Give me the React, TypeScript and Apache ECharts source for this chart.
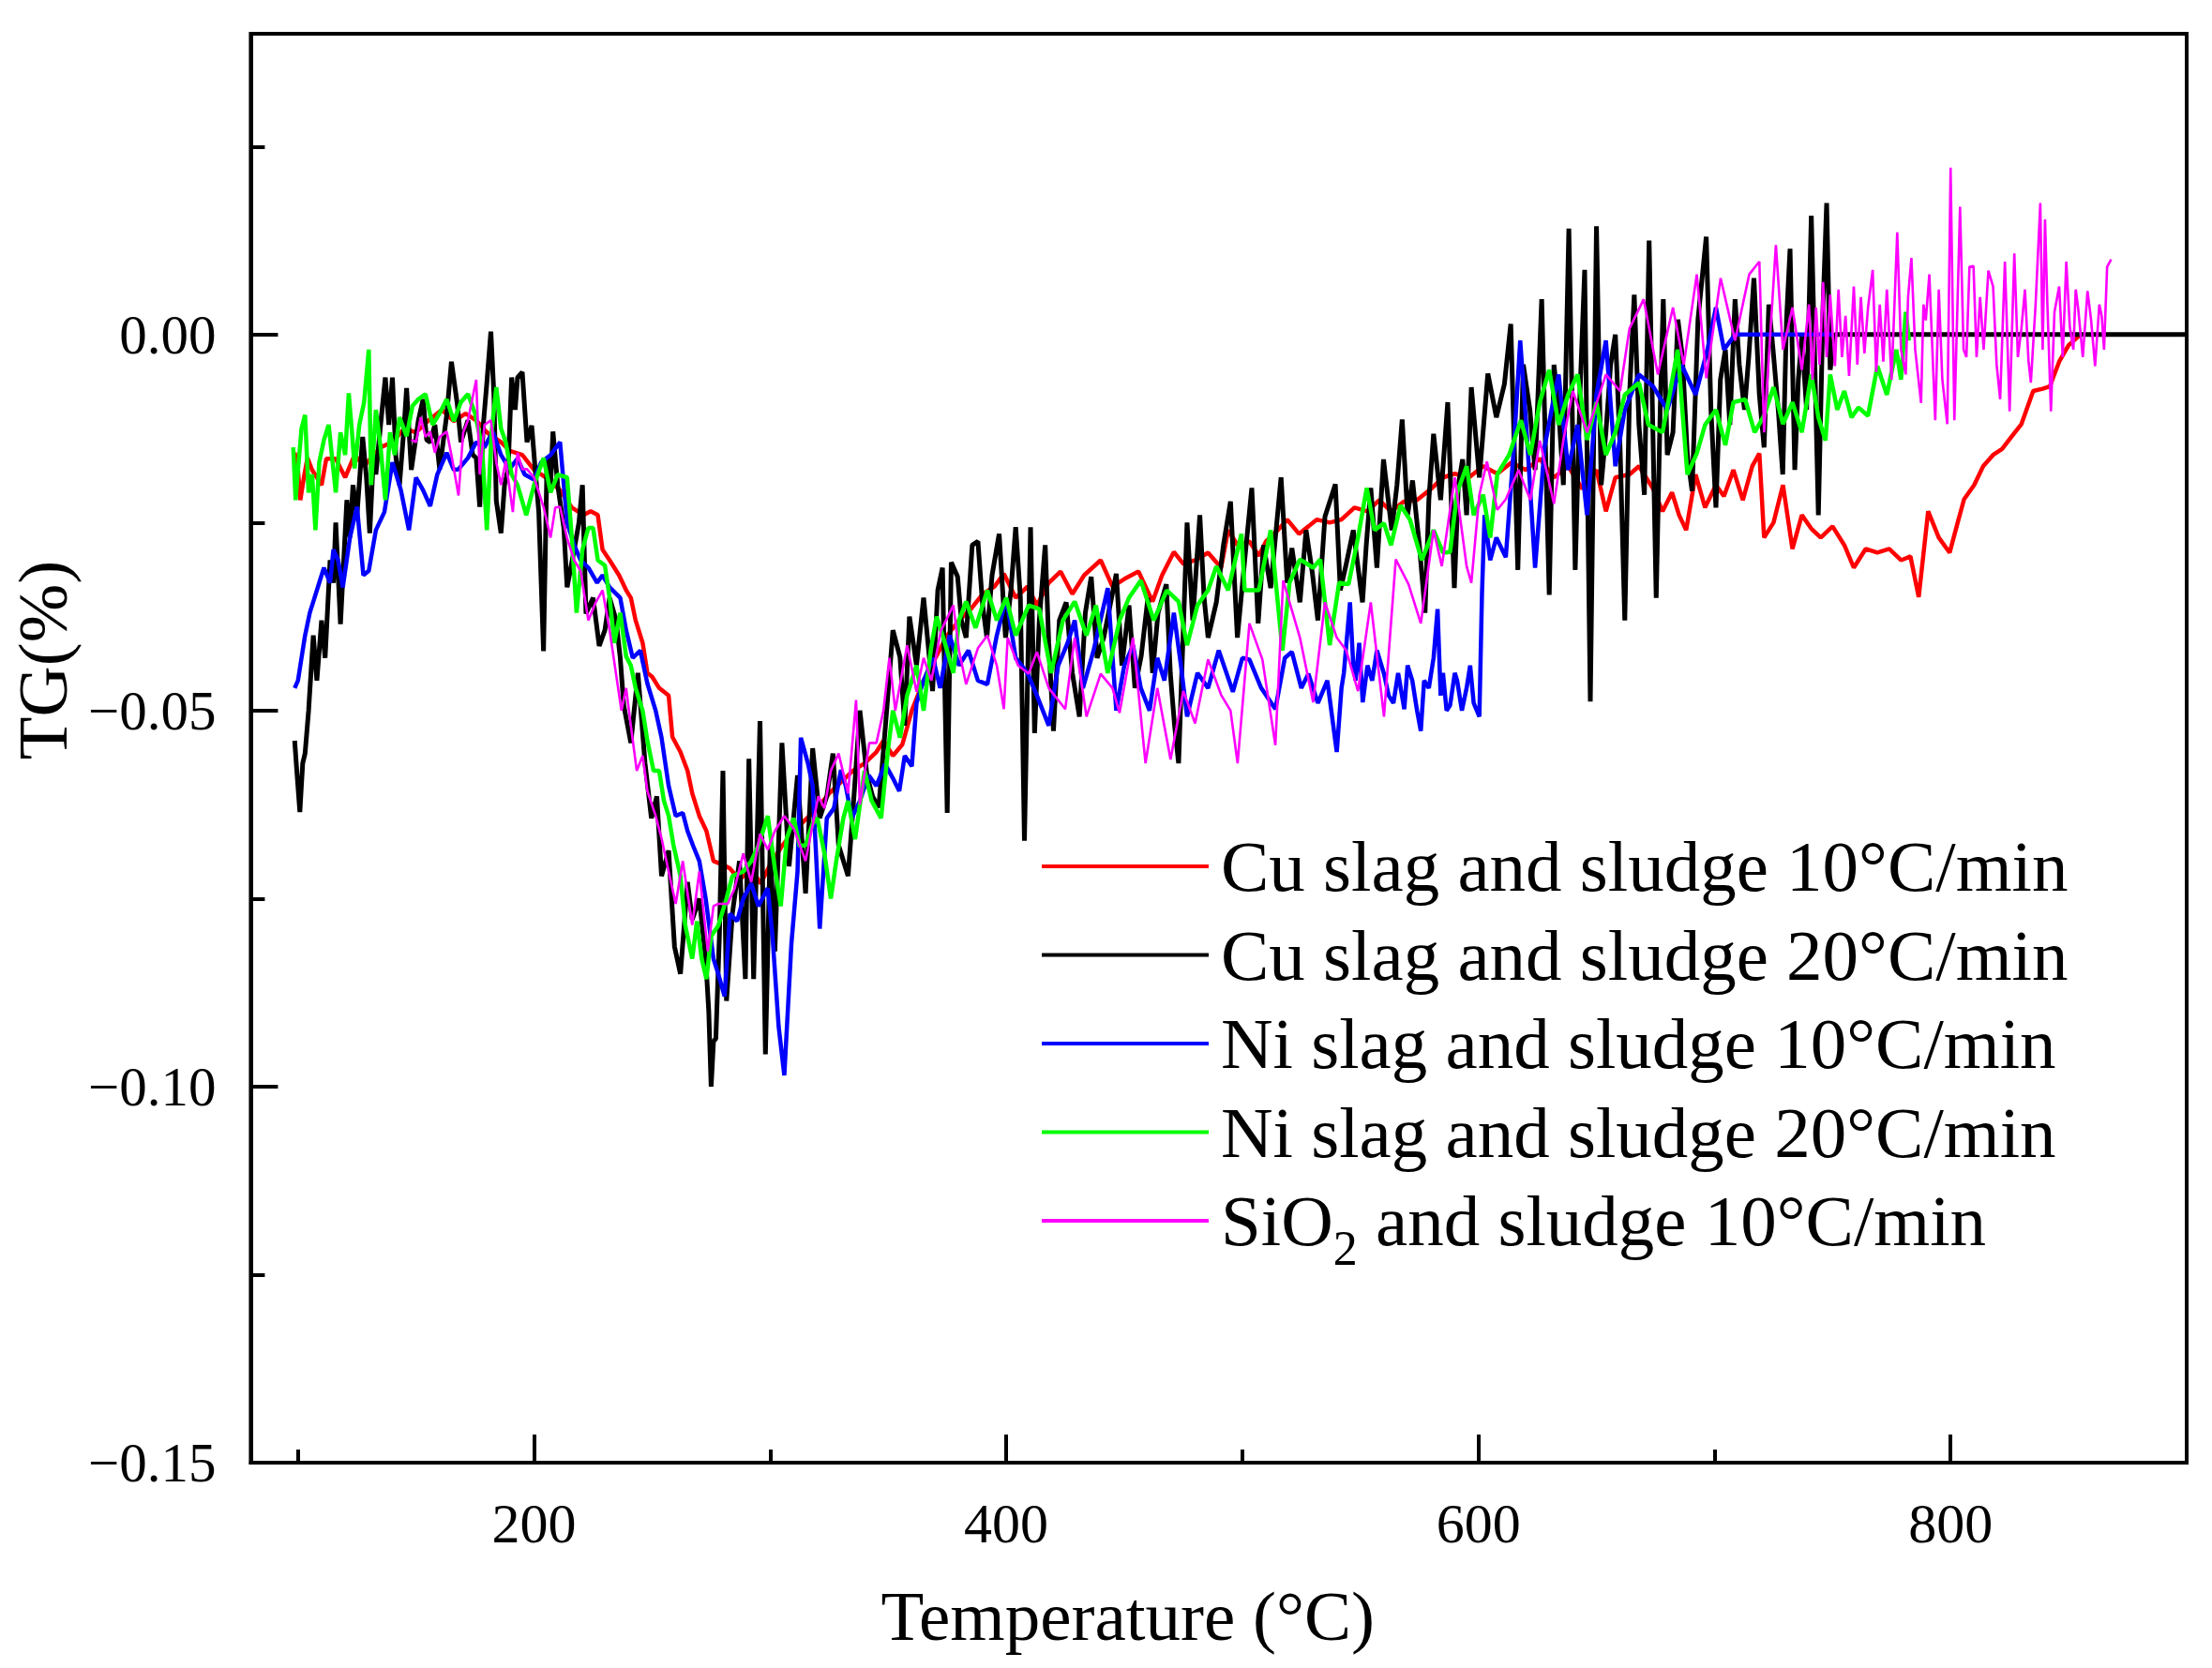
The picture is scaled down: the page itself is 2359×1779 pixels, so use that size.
import { useRef, useEffect } from "react";
import * as echarts from "echarts";

// [temperature °C, TG %]
const cuSlag10: [number, number][] = [
  [98.6, -0.0157], [100, -0.018], [101, -0.022], [102.5, -0.019], [104, -0.0164], [106, -0.018],
  [110, -0.02], [112, -0.0165], [116, -0.0165], [120, -0.019], [124, -0.016], [128, -0.0175],
  [131, -0.0164], [135, -0.015], [140, -0.0143], [145, -0.0125], [150, -0.013], [155, -0.0115],
  [161, -0.01], [166, -0.0115], [171, -0.0105], [175.5, -0.0114], [180, -0.013], [186, -0.0143],
  [190, -0.0155], [195, -0.016], [200, -0.018], [205, -0.019], [211, -0.0207], [216, -0.023],
  [221, -0.024], [224, -0.0235], [227, -0.024], [229, -0.0286], [232, -0.03], [234, -0.031],
  [236, -0.032], [239, -0.034], [241, -0.035], [243, -0.038], [246, -0.041], [248, -0.045],
  [250, -0.0455], [253, -0.047], [257, -0.048], [258.6, -0.0535], [262, -0.0555], [265, -0.058],
  [267, -0.061], [270, -0.064], [273, -0.066], [274.5, -0.068], [276, -0.07], [280, -0.0705],
  [283, -0.071], [287, -0.0725], [292, -0.071], [296, -0.073], [300, -0.0705], [305, -0.068],
  [310, -0.066], [315, -0.0645], [320, -0.063], [325, -0.061], [330, -0.0595], [335, -0.058],
  [340, -0.057], [345, -0.0555], [348, -0.054], [352, -0.056], [356, -0.0545], [360, -0.05],
  [365, -0.046], [370, -0.043], [375, -0.04], [380, -0.038], [385, -0.0365], [390, -0.0345],
  [395, -0.0335], [399, -0.0318], [404, -0.035], [409, -0.0335], [413, -0.036], [418, -0.033],
  [423, -0.0315], [428, -0.0345], [433, -0.032], [440, -0.03], [445, -0.0335], [450, -0.0325],
  [456, -0.0315], [462, -0.0355], [466, -0.032], [471, -0.0289], [475, -0.0305], [480, -0.03],
  [485.5, -0.029], [491, -0.031], [494, -0.026], [498, -0.028], [503, -0.0275], [507, -0.0294],
  [510, -0.0275], [515, -0.026], [519, -0.0246], [524, -0.0265], [528, -0.0255], [531.5, -0.0246],
  [537, -0.025], [542, -0.0246], [547.5, -0.023], [553, -0.0235], [558, -0.022], [563, -0.0235],
  [568.5, -0.0222], [574, -0.022], [580, -0.0205], [585, -0.019], [590, -0.0185], [596, -0.019],
  [602, -0.0175], [608, -0.0185], [614, -0.017], [620, -0.018], [626, -0.0165], [632, -0.019],
  [638, -0.0175], [644, -0.0205], [650, -0.018], [654, -0.0235], [658, -0.019], [664, -0.0186],
  [668, -0.0175], [674, -0.0205], [678, -0.0235], [682, -0.021], [685, -0.024], [688, -0.026],
  [692, -0.0186], [696, -0.023], [700.6, -0.02], [704, -0.0215], [708, -0.018], [712, -0.022],
  [716, -0.0175], [719, -0.0158], [721, -0.027], [725, -0.025], [729, -0.02], [733, -0.0285],
  [737, -0.024], [741, -0.0258], [745, -0.027], [750, -0.0255], [755, -0.028], [759, -0.031],
  [764, -0.0285], [769, -0.029], [774, -0.0285], [779, -0.03], [783, -0.0295], [786.5, -0.0349],
  [790.5, -0.0235], [795, -0.027], [799.6, -0.029], [803, -0.025], [805.7, -0.0219], [810, -0.02],
  [813.8, -0.0175], [818, -0.016], [821.8, -0.0152], [826, -0.0135], [830, -0.0119], [835, -0.0075],
  [839, -0.0072], [842, -0.0069], [846, -0.0036], [850, -0.0014], [855, 0],
];

const cuSlag20: [number, number][] = [
  [98.6, -0.054], [99.5, -0.058], [100.8, -0.0635], [102, -0.057], [103, -0.0557], [104.5, -0.05],
  [106.5, -0.04], [108, -0.046], [110, -0.038], [111.5, -0.043], [113.6, -0.03], [115, -0.033],
  [116, -0.025], [118, -0.0385], [120.7, -0.022], [122, -0.027], [123.3, -0.02], [125, -0.024],
  [127.4, -0.0136], [129, -0.019], [130.4, -0.0264], [132, -0.016], [133, -0.0186], [135, -0.012],
  [137, -0.0057], [138.5, -0.012], [140, -0.0057], [141.5, -0.0164], [143, -0.02], [145, -0.012],
  [146, -0.0071], [148, -0.018], [151, -0.0114], [153, -0.0086], [154.5, -0.014], [156, -0.0143],
  [158, -0.012], [160, -0.0179], [163, -0.0107], [165, -0.0036], [167.5, -0.0093], [169, -0.0143],
  [172, -0.0114], [174, -0.016], [175.5, -0.0164], [177, -0.0229], [178.5, -0.012], [180, -0.0064],
  [181.7, 0.0004], [183, -0.008], [184, -0.0221], [186, -0.0264], [187.5, -0.02], [189, -0.0179],
  [190.5, -0.0057], [192, -0.01], [193, -0.0057], [195, -0.005], [197, -0.0143], [199, -0.0121],
  [200.5, -0.018], [202, -0.0236], [204, -0.0421], [205.5, -0.0164], [207, -0.02], [208, -0.0129],
  [210, -0.02], [212.6, -0.0257], [214, -0.0336], [217, -0.0286], [219, -0.025], [220.5, -0.02],
  [222, -0.0371], [225, -0.035], [227.6, -0.0414], [230, -0.0393], [232, -0.035], [234.7, -0.0379],
  [236.5, -0.043], [238, -0.0493], [241, -0.0543], [244, -0.045], [247, -0.057], [249.7, -0.0643],
  [252, -0.0614], [254, -0.072], [257, -0.0686], [259.5, -0.0814], [262, -0.085], [265, -0.0728],
  [267, -0.0778], [270, -0.075], [272.7, -0.083], [274, -0.09], [275, -0.1], [276, -0.094],
  [277, -0.0936], [278.5, -0.08], [280, -0.058], [281.5, -0.0886], [284, -0.077], [287, -0.07],
  [289.5, -0.0857], [291, -0.0564], [293, -0.0857], [295.7, -0.0514], [298, -0.0957], [300, -0.0679],
  [302, -0.082], [305, -0.0543], [308, -0.0707], [311.6, -0.0586], [315, -0.0743], [318, -0.055],
  [321, -0.0643], [324, -0.0614], [326.6, -0.0557], [329, -0.0679], [333, -0.072], [335.5, -0.0614],
  [338, -0.05], [341, -0.0586], [343.4, -0.0614], [346, -0.0629], [349, -0.0514], [352, -0.0393],
  [355, -0.0429], [357, -0.052], [359, -0.0375], [362, -0.044], [365, -0.035], [368.8, -0.0474],
  [371, -0.034], [373, -0.031], [375, -0.0636], [376.7, -0.0303], [379.4, -0.0322], [381, -0.038],
  [383, -0.0403], [385.6, -0.028], [388, -0.0275], [390, -0.036], [391.8, -0.0403], [394, -0.032],
  [397, -0.0265], [399.7, -0.0403], [402, -0.034], [404, -0.0256], [406, -0.035], [407.7, -0.0673],
  [410.3, -0.0256], [412, -0.053], [414, -0.038], [416.5, -0.028], [418, -0.041], [420, -0.0527],
  [422.5, -0.038], [425.4, -0.0356], [428, -0.045], [431, -0.0508], [433.5, -0.037], [436, -0.0322],
  [438.5, -0.043], [441.3, -0.0403], [444, -0.036], [446.6, -0.0318], [449, -0.044], [452, -0.036],
  [454.5, -0.047], [457.2, -0.0427], [460, -0.035], [462, -0.045], [464.3, -0.037], [467.8, -0.0332],
  [469.5, -0.045], [471.3, -0.052], [473, -0.057], [476.6, -0.025], [479, -0.038], [482, -0.024],
  [483.8, -0.035], [485.5, -0.0403], [489, -0.0356], [492, -0.028], [495, -0.0222], [497.9, -0.0403],
  [501, -0.03], [504, -0.0204], [506.7, -0.0384], [509, -0.028], [512, -0.0337], [514, -0.027],
  [516.4, -0.019], [519, -0.033], [521, -0.0284], [524.4, -0.0356], [527, -0.026], [529.7, -0.0318],
  [532, -0.038], [535, -0.0242], [539.4, -0.0199], [541.5, -0.034], [543.8, -0.0308], [547, -0.026],
  [550.9, -0.0356], [552.5, -0.028], [554.4, -0.0204], [557, -0.031], [559.8, -0.0166], [563.3, -0.026],
  [565.5, -0.02], [567.7, -0.0113], [570, -0.024], [572.1, -0.0194], [575, -0.028], [577.4, -0.037],
  [579, -0.022], [581, -0.0132], [584, -0.022], [587, -0.009], [589.8, -0.0337], [591.5, -0.02],
  [593.3, -0.0166], [595, -0.024], [597, -0.007], [600.4, -0.019], [604, -0.0052], [607.6, -0.011],
  [611, -0.0066], [613.7, 0.0014], [616.7, -0.0313], [619, -0.004], [621.8, -0.01], [624, -0.018],
  [626.8, 0.0047], [630, -0.0346], [632, -0.004], [634, -0.0102], [636, -0.02], [638.3, 0.0141],
  [641, -0.0313], [643, -0.008], [645, 0.0086], [647.4, -0.0488], [650, 0.0144], [652, -0.02],
  [654, -0.013], [656, -0.004], [658, 0], [660, -0.015], [662, -0.038], [664, -0.008], [666, 0.0053],
  [668, -0.012], [670.3, -0.0213], [672.3, 0.0125], [675.3, -0.035], [677, -0.01], [678.3, 0.0047],
  [680, -0.016], [682.4, -0.013], [684.5, 0.002], [686.4, -0.003], [688.5, -0.016], [690.5, -0.0208],
  [693, 0.002], [696.5, 0.013], [698.5, -0.01], [700.6, -0.023], [702.5, -0.006], [704.6, -0.002],
  [706.5, -0.012], [708.7, 0.0047], [710.5, -0.004], [712.7, -0.01], [714.5, -0.003], [716.7, 0.0075],
  [719, -0.008], [721, -0.015], [723, 0.004], [724.8, -0.002], [727, -0.01], [728.9, -0.0186],
  [730.5, 0.002], [732, 0.0114], [734, -0.018], [735.5, -0.006], [737, -0.0002], [739, -0.01],
  [741, 0.0158], [744, -0.024], [746, 0.004], [747.5, 0.0175], [749, -0.0047], [751, 0], [900, 0],
];

const niSlag10: [number, number][] = [
  [98.6, -0.047], [100, -0.046], [101, -0.044], [103, -0.04], [105, -0.037], [107, -0.035],
  [109, -0.033], [111, -0.031], [113.6, -0.033], [115, -0.0286], [117, -0.03], [119, -0.0336],
  [122, -0.027], [125, -0.0229], [127.7, -0.032], [130, -0.0314], [133, -0.026], [136.6, -0.0236],
  [140, -0.017], [142, -0.019], [143.6, -0.0207], [147, -0.026], [150, -0.019], [153, -0.0207],
  [156, -0.0228], [159, -0.0186], [163, -0.0157], [166, -0.018], [168, -0.0179], [172, -0.0164],
  [175.5, -0.0143], [179, -0.015], [182.5, -0.0129], [186, -0.016], [189.6, -0.0179], [193, -0.0165],
  [196, -0.0186], [200, -0.0193], [203, -0.017], [207, -0.016], [211, -0.0143], [214, -0.025],
  [217, -0.028], [219.7, -0.03], [223, -0.031], [226.7, -0.033], [229, -0.032], [232, -0.0336],
  [236.5, -0.035], [239, -0.0393], [241.8, -0.043], [245, -0.042], [248, -0.0464], [251.5, -0.05],
  [254, -0.0536], [257, -0.06], [260, -0.064], [263, -0.0636], [265, -0.066], [267.4, -0.068],
  [270, -0.07], [272.7, -0.075], [276, -0.083], [278, -0.085], [280.7, -0.088], [283, -0.077],
  [286, -0.078], [288.6, -0.075], [292, -0.073], [295, -0.076], [299, -0.0736], [301, -0.08],
  [303.6, -0.092], [306, -0.0985], [309, -0.081], [311.6, -0.0714], [313, -0.0536], [316, -0.057],
  [318, -0.06], [321, -0.079], [324, -0.0643], [327, -0.063], [330, -0.0579], [332, -0.06],
  [334.6, -0.0643], [338, -0.062], [341.7, -0.0586], [345, -0.06], [348.7, -0.0571], [352, -0.059],
  [354.7, -0.0607], [357, -0.056], [360, -0.0574], [362, -0.049], [365, -0.046], [369, -0.043],
  [372, -0.047], [376, -0.04], [380, -0.044], [384, -0.042], [388, -0.046], [392, -0.0465],
  [396, -0.04], [400, -0.035], [404, -0.043], [409, -0.045], [413, -0.048], [418, -0.052],
  [422, -0.044], [426, -0.041], [429, -0.038], [432.5, -0.047], [437, -0.042], [443, -0.0337],
  [446.6, -0.05], [450, -0.044], [453.7, -0.0413], [457, -0.047], [460.7, -0.05], [464, -0.043],
  [467, -0.046], [471, -0.037], [474, -0.044], [476.6, -0.0508], [481, -0.045], [485.5, -0.047],
  [490, -0.042], [496, -0.0475], [500, -0.043], [503, -0.0432], [508, -0.047], [514, -0.0498],
  [518, -0.043], [521, -0.0422], [525, -0.047], [528, -0.0451], [532, -0.049], [536, -0.046],
  [540, -0.0555], [542, -0.047], [543, -0.045], [545.6, -0.0356], [547, -0.044], [548, -0.046],
  [549.5, -0.041], [551, -0.0489], [553, -0.044], [555, -0.046], [557, -0.042], [560, -0.0451],
  [562, -0.048], [564, -0.049], [566, -0.045], [568.6, -0.0498], [570, -0.044], [572, -0.046],
  [574, -0.05], [575.6, -0.0527], [577, -0.046], [579, -0.047], [581, -0.043], [582.7, -0.0365],
  [584, -0.048], [585, -0.045], [586.5, -0.05], [588, -0.0493], [590, -0.045], [591, -0.046],
  [593, -0.05], [595, -0.047], [596.5, -0.044], [598, -0.049], [600.4, -0.0508], [601.5, -0.0346],
  [602.6, -0.024], [605, -0.03], [607.6, -0.027], [611.6, -0.0296], [615, -0.015], [617.7, -0.0008],
  [620, -0.0108], [624, -0.031], [628, -0.015], [631, -0.01], [634, -0.0053], [638, -0.018],
  [642, -0.012], [646, -0.024], [650, -0.008], [654, -0.0008], [658, -0.0175], [662, -0.01],
  [668, -0.0053], [674, -0.0069], [680, -0.01], [686, -0.004], [692, -0.008], [697, -0.002],
  [700.6, 0.0036], [704, -0.002], [708.7, 0], [750, 0],
];

const niSlag20: [number, number][] = [
  [98, -0.015], [99, -0.022], [100, -0.018], [101.5, -0.0125], [103, -0.0107], [104.5, -0.021],
  [106, -0.0186], [107.4, -0.026], [109, -0.017], [111, -0.014], [113, -0.012], [115, -0.018],
  [116, -0.021], [118, -0.013], [120, -0.016], [121.5, -0.0078], [123, -0.0135], [124, -0.0178],
  [126, -0.012], [128, -0.009], [130, -0.002], [131, -0.02], [133, -0.01], [135, -0.015],
  [137, -0.022], [139, -0.013], [141, -0.016], [143, -0.011], [146, -0.0135], [148.5, -0.0095],
  [151, -0.0086], [154, -0.0079], [157, -0.012], [159.6, -0.0107], [163, -0.0086], [166, -0.0115],
  [169, -0.009], [172, -0.0079], [175, -0.0105], [178, -0.015], [180, -0.026], [182, -0.013],
  [184, -0.007], [186, -0.0125], [188, -0.0143], [190.5, -0.0186], [193, -0.02], [196.7, -0.024],
  [200, -0.02], [204, -0.0164], [207, -0.021], [210, -0.0186], [214, -0.019], [216, -0.027],
  [218, -0.037], [220.5, -0.0286], [223, -0.0257], [225, -0.0257], [227, -0.03], [230, -0.0307],
  [232, -0.035], [234, -0.041], [236.5, -0.037], [239, -0.0428], [241, -0.044], [243, -0.047],
  [246, -0.05], [248, -0.054], [250.6, -0.058], [253, -0.058], [255, -0.062], [257, -0.064],
  [259, -0.0678], [262, -0.072], [264, -0.0785], [267, -0.083], [269, -0.078], [271, -0.083],
  [273, -0.0857], [275, -0.08], [278, -0.0786], [281.5, -0.075], [284, -0.072], [288.6, -0.0714],
  [292, -0.07], [295, -0.068], [299, -0.064], [302, -0.071], [304.5, -0.076], [307, -0.067],
  [310, -0.0643], [312.5, -0.068], [315, -0.0679], [318, -0.065], [320, -0.0643], [323, -0.069],
  [325.7, -0.075], [328, -0.07], [331, -0.0643], [333, -0.062], [336, -0.0671], [340, -0.058],
  [343, -0.062], [347, -0.0643], [350, -0.055], [352, -0.05], [355, -0.0536], [358, -0.048],
  [362, -0.044], [365, -0.05], [368, -0.042], [370.5, -0.0375], [374, -0.041], [377.6, -0.045],
  [380, -0.038], [383, -0.0355], [387, -0.039], [392, -0.034], [396, -0.038], [400, -0.035],
  [404, -0.04], [409.5, -0.036], [414, -0.0365], [419, -0.045], [424, -0.038], [429, -0.0355],
  [434, -0.04], [438, -0.036], [443, -0.045], [448, -0.038], [452, -0.035], [457, -0.0327],
  [462.5, -0.038], [468, -0.034], [473, -0.0355], [476.6, -0.0413], [481, -0.036], [485.5, -0.034],
  [489, -0.0308], [494, -0.034], [499.6, -0.0265], [501, -0.034], [507, -0.034], [512, -0.026],
  [517, -0.042], [520, -0.033], [524.4, -0.0299], [530, -0.031], [533, -0.0299], [537, -0.0413],
  [541, -0.033], [545, -0.0332], [549, -0.027], [552.7, -0.0204], [556, -0.026], [560, -0.0251],
  [563, -0.028], [567, -0.0227], [571, -0.0246], [576, -0.03], [581, -0.026], [585, -0.029],
  [588, -0.0289], [591, -0.021], [595, -0.0175], [598, -0.024], [602, -0.0213], [605, -0.027],
  [608, -0.0186], [613, -0.016], [618, -0.0114], [622, -0.016], [626, -0.009], [630, -0.0047],
  [634, -0.012], [638, -0.008], [642, -0.0053], [646, -0.014], [650, -0.009], [654, -0.016],
  [658, -0.013], [662, -0.008], [668, -0.0064], [672, -0.012], [678, -0.013], [681, -0.008],
  [684.4, -0.002], [688.5, -0.0186], [692.5, -0.0158], [696, -0.012], [700.6, -0.01], [704.6, -0.0147],
  [708, -0.009], [713, -0.0086], [717, -0.013], [721, -0.0108], [725, -0.007], [729, -0.0119],
  [733, -0.009], [737, -0.013], [741, -0.0053], [744, -0.011], [747, -0.0141], [749, -0.0053],
  [752, -0.01], [755, -0.0075], [758, -0.011], [761, -0.0097], [765, -0.0108], [769, -0.0042],
  [773, -0.008], [777, -0.002], [779, -0.006], [781, 0.003], [782.4, -0.0008],
];

const sio2: [number, number][] = [
  [148, -0.014], [150, -0.0143], [152, -0.011], [154, -0.0136], [156, -0.0129], [158, -0.0157],
  [160, -0.0136], [163, -0.0129], [165, -0.016], [168, -0.0214], [170, -0.013], [172, -0.0114],
  [175.5, -0.006], [177, -0.0186], [179, -0.012], [181.7, -0.0114], [184, -0.017], [186, -0.02],
  [188, -0.0168], [191, -0.0236], [193, -0.0157], [195, -0.0179], [197, -0.0179], [200, -0.019],
  [204, -0.0229], [207, -0.027], [209, -0.023], [211, -0.0229], [214, -0.0271], [217, -0.03],
  [219.7, -0.0314], [223, -0.038], [226, -0.0357], [229, -0.034], [232, -0.0393], [235.6, -0.047],
  [237, -0.05], [239, -0.047], [241, -0.052], [243.5, -0.058], [246, -0.056], [248, -0.0607],
  [251.5, -0.064], [254, -0.067], [257, -0.0714], [260, -0.0757], [263, -0.07], [267, -0.0785],
  [270, -0.0714], [273.6, -0.082], [276, -0.076], [278, -0.0757], [282, -0.0757], [285, -0.0736],
  [288.6, -0.069], [292, -0.0728], [295.7, -0.0664], [299, -0.0685], [302, -0.066], [306, -0.064],
  [310, -0.0657], [315, -0.07], [320.4, -0.0614], [323, -0.063], [325.7, -0.058], [329, -0.0557],
  [333, -0.061], [336.4, -0.0486], [338, -0.0625], [342, -0.0543], [345, -0.0543], [348, -0.05],
  [350.5, -0.043], [353, -0.05], [358, -0.0413], [362, -0.0475], [365, -0.043], [368.3, -0.046],
  [372.3, -0.0394], [377.6, -0.036], [380, -0.042], [383, -0.0465], [388, -0.0417], [392, -0.04],
  [396, -0.044], [399, -0.0498], [400.6, -0.0403], [405, -0.044], [409.5, -0.0451], [413, -0.0422],
  [418, -0.047], [425, -0.0498], [429, -0.0403], [434, -0.0508], [440, -0.0451], [445, -0.047],
  [448, -0.0503], [453.7, -0.0403], [459, -0.057], [464, -0.047], [469.6, -0.0565], [475, -0.0474],
  [480, -0.0517], [485.5, -0.0432], [491, -0.0479], [495, -0.05], [498, -0.057], [503, -0.0384],
  [508.5, -0.0432], [514, -0.0546], [517.3, -0.0327], [524.4, -0.0403], [530, -0.0489], [535, -0.0356],
  [540, -0.0403], [544, -0.042], [549, -0.0474], [554.4, -0.0356], [560, -0.0508], [565, -0.0299],
  [570.4, -0.0332], [575.6, -0.0384], [581, -0.026], [584.5, -0.0308], [590, -0.019], [595, -0.0308],
  [597, -0.033], [600.4, -0.0213], [603.6, -0.0169], [608, -0.0233], [611.6, -0.0219], [617, -0.018],
  [622, -0.022], [626, -0.0141], [632, -0.0225], [636, -0.014], [640, -0.0075], [646, -0.013],
  [654, -0.0053], [660, -0.0075], [664, 0.0008], [670, 0.0047], [676, -0.0053], [682.4, 0.0036],
  [687, -0.004], [692.5, 0.008], [696.5, -0.0058], [702.6, 0.0075], [708.7, -0.0008], [714.7, 0.008],
  [719, 0.0097], [721, -0.013], [726, 0.0119], [729, -0.002], [733, 0.0036], [737, -0.0047],
  [740, 0.004], [741.5, -0.006], [743, 0.0036], [744.5, -0.004], [746, 0.007], [747.5, -0.003],
  [749, 0.0053], [751, -0.0042], [752.5, 0.006], [754, -0.003], [755.5, 0.0025], [757, -0.0055],
  [759, 0.0064], [760.5, -0.004], [762, 0.005], [763.5, -0.0025], [765, 0.0035], [767, 0.0086],
  [768.5, -0.005], [770, 0.004], [771.5, -0.0036], [773, 0.006], [775, -0.006], [777.4, 0.0136],
  [779, -0.002], [781, -0.0053], [782, 0.005], [783.4, 0.0102], [785, -0.002], [787.5, -0.0091],
  [788.5, 0.004], [789.5, 0.0019], [791, 0.008], [793.5, -0.0114], [795, 0.006], [796.5, -0.006],
  [798.6, -0.0119], [800, 0.0222], [801.6, -0.0114], [803, 0.005], [804, 0.017], [805.5, -0.002],
  [806.7, -0.003], [808, 0.009], [809.7, 0.0091], [811, -0.003], [812.5, 0.005], [814, -0.002],
  [816, 0.0085], [818, 0.0064], [819.5, -0.004], [821, -0.0086], [823, 0.0097], [825, -0.0102],
  [827, 0.0108], [828.5, -0.003], [830, 0.0008], [831.5, 0.006], [833, -0.0035], [834, -0.0064],
  [836, 0.004], [838, 0.0175], [839, -0.002], [840, 0.0153], [841, 0.004], [842.5, -0.0102],
  [844, 0.003], [846, 0.0064], [847.5, -0.003], [849, 0.0097], [850.5, 0.001], [852, -0.002],
  [853, 0.006], [854, 0.0036], [856, -0.003], [858, 0.0058], [859.5, 0.002], [861.2, -0.0042],
  [863, 0.004], [864, 0.0025], [865, -0.002], [866.3, 0.009], [868, 0.01],
];

const seriesNames = [
  "Cu slag and sludge 10°C/min",
  "Cu slag and sludge 20°C/min",
  "Ni slag and sludge 10°C/min",
  "Ni slag and sludge 20°C/min",
  "SiO2 and sludge 10°C/min",
];
const seriesColors = ["#ff0000", "#000000", "#0000ff", "#00ff00", "#ff00ff"];

const xMajorTicks = [200, 400, 600, 800];
const xMinorTicks = [100, 300, 500, 700];
const yMajorTicks = [-0.15, -0.1, -0.05, 0];
const yMinorTicks = [-0.125, -0.075, -0.025, 0.025];

const FONT = '"Liberation Serif", "Times New Roman", serif';

export default function App() {
  const chartRef = useRef<HTMLDivElement>(null);

  useEffect(() => {
    if (!chartRef.current) return;
    const chart = echarts.init(chartRef.current, null, { renderer: "svg" });

    const axisLineStyle = { color: "#000", width: 4 };

    const line = (i: number, data: [number, number][], width: number) => ({
      name: seriesNames[i],
      type: "line" as const,
      data,
      showSymbol: false,
      symbol: "none",
      lineStyle: { color: seriesColors[i], width },
      itemStyle: { color: seriesColors[i] },
    });

    chart.setOption({
      animation: false,
      backgroundColor: "#fff",
      grid: {
        left: 267,
        right: 27,
        top: 36,
        bottom: 219,
        show: true,
        borderColor: "#000",
        borderWidth: 4,
        backgroundColor: "transparent",
      },
      legend: {
        orient: "vertical",
        left: 1106,
        top: 864,
        itemWidth: 178,
        itemHeight: 4,
        itemGap: -15.5,
        data: seriesNames.map((name, i) => ({
          name,
          icon: "rect",
          itemStyle: { color: seriesColors[i] },
        })),
        // a trailing subscript-sized blank keeps every row the same height
        formatter: (name: string) =>
          name.startsWith("SiO2")
            ? "{a|SiO}{s|2}{a| and sludge 10°C/min}"
            : "{a|" + name + "}{s| }",
        textStyle: {
          fontFamily: FONT,
          fontSize: 77,
          lineHeight: 77,
          color: "#000",
          padding: [0, 0, 0, 8],
          rich: {
            a: { fontFamily: FONT, fontSize: 77, lineHeight: 77, color: "#000" },
            s: {
              fontFamily: FONT,
              fontSize: 52,
              lineHeight: 1,
              padding: [58, 0, 0, 0],
              color: "#000",
            },
          },
        },
      },
      xAxis: [
        {
          type: "value",
          min: 80,
          max: 900,
          position: "bottom",
          name: "Temperature (°C)",
          nameLocation: "middle",
          nameGap: 126,
          nameTextStyle: {
            fontFamily: FONT,
            fontSize: 75,
            color: "#000",
            padding: [0, 194, 0, 0],
          },
          axisLine: { show: true, onZero: false, lineStyle: axisLineStyle },
          axisTick: {
            show: true,
            inside: true,
            length: 30,
            customValues: xMajorTicks,
            lineStyle: axisLineStyle,
          },
          axisLabel: {
            customValues: xMajorTicks,
            fontFamily: FONT,
            fontSize: 60,
            color: "#000",
            margin: 35,
          },
          splitLine: { show: false },
        },
        {
          type: "value",
          min: 80,
          max: 900,
          position: "bottom",
          axisLine: { show: false, onZero: false },
          axisTick: {
            show: true,
            inside: true,
            length: 14,
            customValues: xMinorTicks,
            lineStyle: axisLineStyle,
          },
          axisLabel: { show: false },
          splitLine: { show: false },
        },
      ],
      yAxis: [
        {
          type: "value",
          min: -0.15,
          max: 0.04,
          position: "left",
          name: "TG(%)",
          nameLocation: "middle",
          nameGap: 171,
          nameTextStyle: {
            fontFamily: FONT,
            fontSize: 75,
            color: "#000",
            padding: [0, 0, 0, 188],
          },
          axisLine: { show: true, onZero: false, lineStyle: axisLineStyle },
          axisTick: {
            show: true,
            inside: true,
            length: 29,
            customValues: yMajorTicks,
            lineStyle: axisLineStyle,
          },
          axisLabel: {
            customValues: yMajorTicks,
            formatter: (v: number) =>
              Math.abs(v) < 1e-9 ? "0.00" : "\u2212" + Math.abs(v).toFixed(2),
            fontFamily: FONT,
            fontSize: 59,
            color: "#000",
            margin: 37,
          },
          splitLine: { show: false },
        },
        {
          type: "value",
          min: -0.15,
          max: 0.04,
          position: "left",
          axisLine: { show: false, onZero: false },
          axisTick: {
            show: true,
            inside: true,
            length: 15,
            customValues: yMinorTicks,
            lineStyle: axisLineStyle,
          },
          axisLabel: { show: false },
          splitLine: { show: false },
        },
      ],
      series: [
        line(0, cuSlag10, 4.5),
        line(1, cuSlag20, 5),
        line(2, niSlag10, 4.5),
        line(3, niSlag20, 4.5),
        line(4, sio2, 2.6),
      ],
    });

    return () => {
      chart.dispose();
    };
  }, []);

  return (
    <div
      ref={chartRef}
      style={{ position: "fixed", left: 0, top: 0, width: "2359px", height: "1779px" }}
    />
  );
}
